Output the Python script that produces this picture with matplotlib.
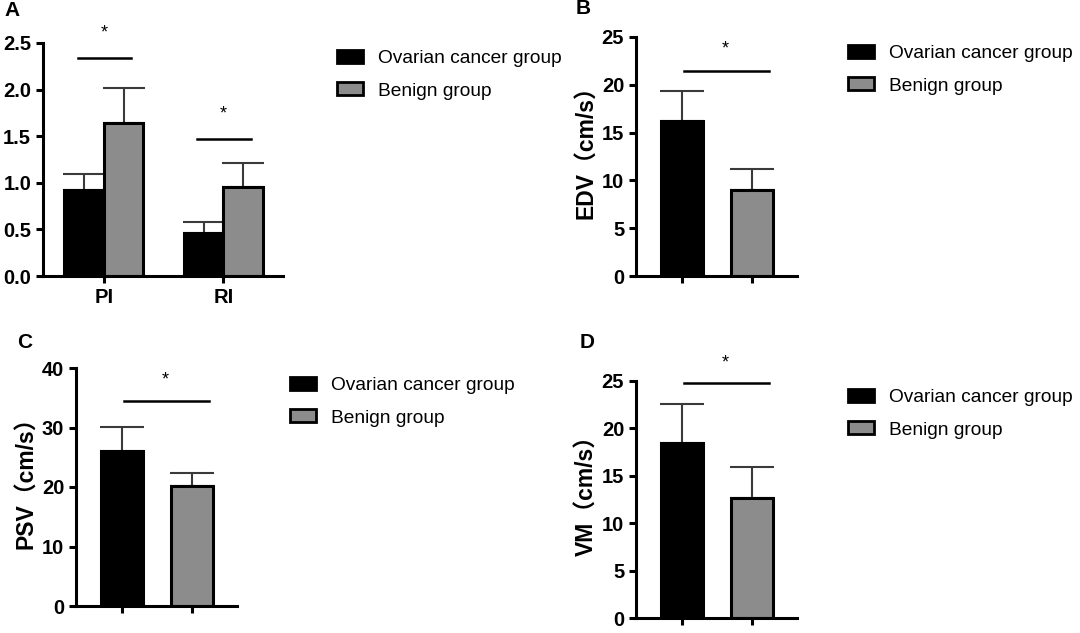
import matplotlib
matplotlib.use('Agg')
import matplotlib.pyplot as plt
from matplotlib.patches import Patch

plt.rcParams['font.family'] = ['Liberation Sans', 'Noto Sans CJK SC']

# dane
groups = ['Ovarian cancer group', 'Benign group']
a_labels = ['PI', 'RI']
a_cancer = [0.92, 0.46]
a_cancer_err = [0.17, 0.12]
a_benign = [1.64, 0.96]
a_benign_err = [0.38, 0.25]
a_sig = [2.34, 1.47]

edv = [16.2, 9.0]
edv_err = [3.2, 2.2]
psv = [26.1, 20.2]
psv_err = [4.0, 2.2]
vm = [18.5, 12.7]
vm_err = [4.1, 3.2]

c_black = '#000000'
c_gray = '#8c8c8c'
c_err = '#3a3a3a'
W, H = 1080, 633


def box(l, r, b, t):
    return [l / W, 1 - b / H, (r - l) / W, (b - t) / H]


def style(ax):
    for s in ['top', 'right']:
        ax.spines[s].set_visible(False)
    for s in ['left', 'bottom']:
        ax.spines[s].set_linewidth(2.2)
    ax.tick_params(width=2.2, length=5, labelsize=14.5)
    for lab in ax.get_yticklabels() + ax.get_xticklabels():
        lab.set_fontweight('bold')


def legend(fig, x, y):
    handles = [Patch(facecolor=c_black, edgecolor='black', linewidth=2),
               Patch(facecolor=c_gray, edgecolor='black', linewidth=2)]
    fig.legend(handles, groups, loc='upper left', bbox_to_anchor=(x / W, 1 - y / H),
               frameon=False, fontsize=13.8, handlelength=1.37, handleheight=0.65,
               handletextpad=0.75, labelspacing=0.8, borderpad=0, borderaxespad=0)


def single(fig, pos, vals, errs, ymax, step, ylabel, sig_y, star_y):
    ax = fig.add_axes(pos)
    x = [0, 1]
    ax.bar(x, vals, width=0.6, color=[c_black, c_gray], edgecolor='black', linewidth=2.2, zorder=2)
    ax.errorbar(x, vals, yerr=[[0, 0], errs], fmt='none', ecolor=c_err, elinewidth=1.5,
                capsize=16, capthick=1.5, zorder=1)
    ax.set_xlim(-0.66, 1.65)
    ax.set_ylim(0, ymax)
    ax.set_yticks(range(0, ymax + 1, step))
    ax.set_xticks(x)
    ax.set_xticklabels(['', ''])
    ax.plot([0.03, 1.25], [sig_y, sig_y], color='black', lw=1.8, clip_on=False)
    ax.text(0.62, star_y, '*', ha='center', va='center', fontsize=13, clip_on=False)
    ax.set_ylabel(ylabel, fontsize=16.5, fontweight='bold')
    ax.yaxis.set_label_coords(-0.235, 0.54)
    style(ax)
    return ax


fig = plt.figure(figsize=(10.8, 6.33), dpi=100)

# A
ax = fig.add_axes(box(43, 283, 276, 43))
x = [0, 1]
w = 0.33
xb = [i - w / 2 for i in x]
xg = [i + w / 2 for i in x]
ax.bar(xb, a_cancer, width=w, color=c_black, edgecolor='black', linewidth=2.2, zorder=2)
ax.bar(xg, a_benign, width=w, color=c_gray, edgecolor='black', linewidth=2.2, zorder=2)
ax.errorbar(xb, a_cancer, yerr=[[0, 0], a_cancer_err], fmt='none', ecolor=c_err,
            elinewidth=1.5, capsize=15, capthick=1.5, zorder=1)
ax.errorbar(xg, a_benign, yerr=[[0, 0], a_benign_err], fmt='none', ecolor=c_err,
            elinewidth=1.5, capsize=15, capthick=1.5, zorder=1)
for i, sy in enumerate(a_sig):
    ax.plot([i - 0.22, i + 0.23], [sy, sy], color='black', lw=1.8, clip_on=False)
    ax.text(i, sy + 0.27, '*', ha='center', va='center', fontsize=13, clip_on=False)
ax.set_xlim(-0.51, 1.5)
ax.set_ylim(0, 2.5)
ax.set_yticks([0, 0.5, 1.0, 1.5, 2.0, 2.5])
ax.set_yticklabels(['0.0', '0.5', '1.0', '1.5', '2.0', '2.5'])
ax.set_xticks(x)
ax.set_xticklabels(a_labels)
style(ax)
legend(fig, 337, 50)

# B
single(fig, box(636, 797, 276, 37), edv, edv_err, 25, 5, 'EDV（cm/s）', 21.4, 23.7)
legend(fig, 848, 45)

# C
single(fig, box(76, 237, 606, 368), psv, psv_err, 40, 10, 'PSV（cm/s）', 34.5, 38.0)
legend(fig, 290, 377)

# D
single(fig, box(636, 797, 618, 381), vm, vm_err, 25, 5, 'VM（cm/s）', 24.8, 26.9)
legend(fig, 848, 389)

for lab, px, py in [('A', 4, 10), ('B', 576, 9), ('C', 17, 342), ('D', 580, 342)]:
    fig.text(px / W, 1 - py / H, lab, fontsize=15, fontweight='bold', va='center', ha='left')

fig.savefig('out.png', dpi=100, facecolor='white')
